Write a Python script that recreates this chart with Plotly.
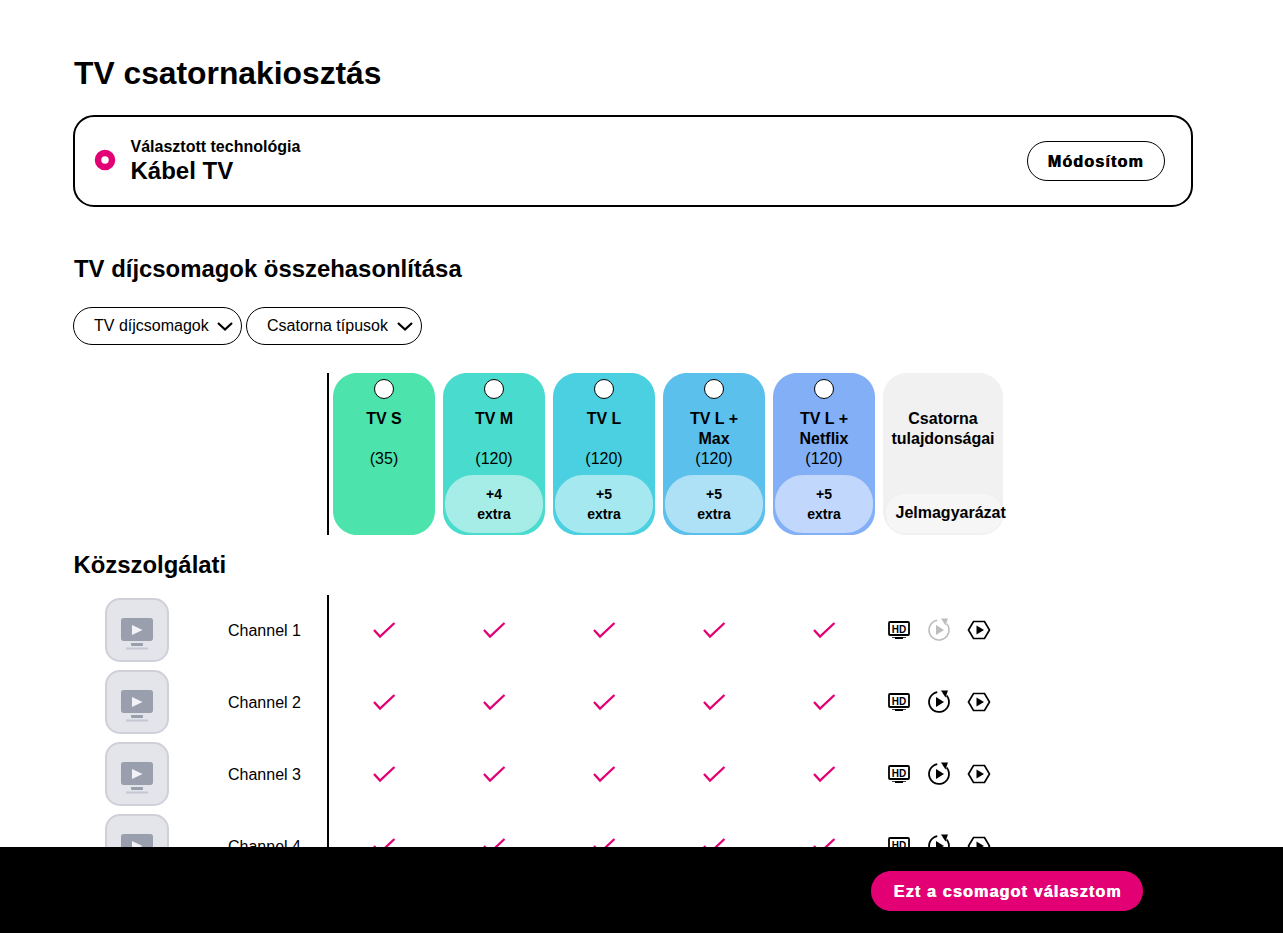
import numpy as np
import plotly.graph_objects as go

W, H = 1283, 933
FONT = "Liberation Sans"
PINK = "#E20074"

# ---- content data
page_title = "TV csatornakiosztás"
tech_label = "Választott technológia"
tech_value = "Kábel TV"
modify_label = "Módosítom"
compare_title = "TV díjcsomagok összehasonlítása"
filters = ["TV díjcsomagok", "Csatorna típusok"]
package_lines = [["TV S"], ["TV M"], ["TV L"], ["TV L +", "Max"], ["TV L +", "Netflix"]]
package_counts = [35, 120, 120, 120, 120]
package_extras = [None, 4, 5, 5, 5]
package_colors = ["#4DE3AC", "#49DBCD", "#4AD0E0", "#5CC0EC", "#82AFF6"]
bubble_colors = [None, "#A5EDE6", "#A5E8F0", "#AEE0F6", "#C1D7FB"]
attr_lines = ["Csatorna", "tulajdonságai"]
legend_label = "Jelmagyarázat"
section_title = "Közszolgálati"
channel_names = ["Channel 1", "Channel 2", "Channel 3", "Channel 4"]
included = [[1, 1, 1, 1, 1], [1, 1, 1, 1, 1], [1, 1, 1, 1, 1], [1, 1, 1, 1, 1]]
replay_active = [False, True, True, True]
cta_label = "Ezt a csomagot választom"

# ---- layout constants
card_x = [333, 443, 553, 663, 773]
card_w = 102
row_y = [630, 702, 774, 846]


def rrect(x0, y0, x1, y1, r):
    k = r * 0.4477  # distance of the Bezier handle from the corner point
    return (f"M{x0+r},{y0} L{x1-r},{y0} C{x1-k},{y0} {x1},{y0+k} {x1},{y0+r} L{x1},{y1-r} "
            f"C{x1},{y1-k} {x1-k},{y1} {x1-r},{y1} L{x0+r},{y1} C{x0+k},{y1} {x0},{y1-k} {x0},{y1-r} "
            f"L{x0},{y0+r} C{x0},{y0+k} {x0+k},{y0} {x0+r},{y0} Z")


def poly(pts, close=True):
    s = "M" + " L".join(f"{x},{y}" for x, y in pts)
    return s + (" Z" if close else "")


shapes = []


def path(d, fill="rgba(0,0,0,0)", line=None, width=0, layer="below"):
    shapes.append(dict(type="path", path=d, fillcolor=fill, layer=layer,
                       line=dict(color=line or "rgba(0,0,0,0)", width=width)))


def circle(cx, cy, r, fill="rgba(0,0,0,0)", line=None, width=0):
    shapes.append(dict(type="circle", x0=cx - r, x1=cx + r, y0=cy - r, y1=cy + r, fillcolor=fill, layer="below",
                       line=dict(color=line or "rgba(0,0,0,0)", width=width)))


# texts: x, y, text, size, bold, colour
centered, left = [], []

left.append((74, 76, page_title, 31.8, True, "#000"))
path(rrect(74, 116, 1192, 206, 20), "#fff", "#000", 2)
circle(105, 160, 7, "#fff", PINK, 6.5)
left.append((130.5, 147.5, tech_label, 16, True, "#000"))
left.append((130.5, 173, tech_value, 24, True, "#000"))
path(rrect(1027.5, 141.5, 1164.5, 180.5, 19.5), "#fff", "#000", 1)
left.append((74, 271.2, compare_title, 23.9, True, "#000"))

for (x0, x1), label in zip([(73.5, 241.5), (246.5, 421.5)], filters):
    path(rrect(x0, 307.5, x1, 344.5, 18.5), "#fff", "#000", 1)
    left.append((x0 + 20.5, 327, label, 16, False, "#000"))
    cx = x1 - 16.5
    path(poly([(cx - 7, 323), (cx, 329.5), (cx + 7, 323)], False), line="#000", width=2.2)

# header cards
for i, x in enumerate(card_x):
    path(rrect(x, 373, x + card_w, 535, 24), package_colors[i])
    cx = x + card_w / 2
    circle(cx, 389, 9.5, "#fff", "#000", 1)
    lines = package_lines[i]
    for j, t in enumerate(lines):
        centered.append((cx, 419.5 + 20 * j, t, 16, True, "#000"))
    centered.append((cx, 459.5, f"({package_counts[i]})", 16, False, "#000"))
    if package_extras[i] is not None:
        path(rrect(x + 2, 475, x + card_w - 2, 533, 28), bubble_colors[i])
        centered.append((cx, 495.5, f"+{package_extras[i]}", 14, True, "#000"))
        centered.append((cx, 515.5, "extra", 14, True, "#000"))

path(rrect(883, 373, 1003, 535, 24), "#F1F1F1")
path(rrect(885, 493, 1003, 534, 20), "#F6F6F6", "#EEEEEE", 1)
centered.append((943, 419.5, attr_lines[0], 16, True, "#000"))
centered.append((943, 439.5, attr_lines[1], 16, True, "#000"))
left.append((895.5, 513.5, legend_label, 16, True, "#000"))

left.append((73.5, 567, section_title, 23.9, True, "#000"))

# vertical rules
path(poly([(328, 373), (328, 535)], False), line="#000", width=2)
path(poly([(328, 595), (328, 847)], False), line="#000", width=2)

check_x, check_y = [], []
for r, y in enumerate(row_y):
    # tile
    path(rrect(106, y - 31, 168, y + 31, 14), "#E4E5EA", "#CFD0D8", 2)
    path(rrect(121, y - 12, 153, y + 11, 2.5), "#9A9FAE")
    path(poly([(132, y - 5), (132, y + 5), (142.5, y)]), "#F2F3F6")
    path(rrect(131, y + 13, 143, y + 16, 1), "#9A9FAE")
    path(rrect(126, y + 17.5, 148, y + 19.5, 0.5), "#C5C8D0")
    centered.append((264.5, y + 2, channel_names[r], 16, False, "#000"))
    # checks
    for c, x in enumerate(card_x):
        if included[r][c]:
            cx = x + card_w / 2
            check_x += [cx - 10, cx - 4, cx + 10.5, None]
            check_y += [y, y + 6.5, y - 7, None]
    # HD icon
    path(rrect(889, y - 8, 909, y + 5, 1), "#fff", "#000", 1.8)
    path(poly([(892, y + 7), (906, y + 7), (906, y + 7.8), (903, y + 7.8), (903, y + 9), (895, y + 9),
               (895, y + 7.8), (892, y + 7.8)]), "#000")
    centered.append((899, y + 0.8, "HD", 10, True, "#000"))
    # replay icon
    col = "#000" if replay_active[r] else "#BDBDBD"
    wid = 1.8 if replay_active[r] else 1.6
    a = np.radians(np.arange(-40, 263, 15))
    path(poly(list(zip(939 + 10 * np.cos(a), y + 10 * np.sin(a))), False), line=col, width=wid)
    path(poly([(936, y - 5), (936, y + 5), (944, y)]), col)
    path(poly([(941, y - 11.5), (948, y - 11.5), (945.5, y - 4.5)]), col)
    # hexagon play icon
    path(poly([(968.5, y), (973.5, y - 8.5), (984.5, y - 8.5), (989.5, y), (984.5, y + 8.5), (973.5, y + 8.5)]),
         "#fff", "#000", 1.7)
    path(poly([(976.5, y - 4.5), (976.5, y + 4.5), (984, y)]), "#000")

# footer sits above everything drawn as a trace
path(f"M0,847 L{W},847 L{W},{H} L0,{H} Z", "#000", layer="above")
path(rrect(871, 871, 1143, 911, 20), PINK, layer="above")


def text_trace(items, pos):
    return go.Scatter(
        x=[t[0] for t in items], y=[t[1] for t in items], text=[t[2] for t in items],
        mode="text", textposition=pos, hoverinfo="skip", showlegend=False, cliponaxis=False,
        textfont=dict(family=FONT, size=[t[3] for t in items],
                      weight=[700 if t[4] else 400 for t in items],
                      color=[t[5] for t in items]))


fig = go.Figure()
fig.add_trace(go.Scatter(x=check_x, y=check_y, mode="lines", hoverinfo="skip", showlegend=False,
                         line=dict(color=PINK, width=2.3)))
fig.add_trace(text_trace(centered, "middle center"))
fig.add_trace(text_trace(left, "middle right"))

annotations = [
    dict(x=1095.5, y=161, text=modify_label, showarrow=False, xanchor="center", yanchor="middle",
         font=dict(family=FONT, size=16, weight=700, color="#000", shadow="0.7px 0 0 #000")),
    dict(x=1007, y=891.5, text=cta_label, showarrow=False, xanchor="center", yanchor="middle",
         font=dict(family=FONT, size=16, weight=700, color="#fff", shadow="0.7px 0 0 #fff")),
]

fig.update_layout(
    width=W, height=H, autosize=False, margin=dict(l=0, r=0, t=0, b=0),
    paper_bgcolor="#fff", plot_bgcolor="#fff", showlegend=False, shapes=shapes, annotations=annotations,
    hovermode=False,
    xaxis=dict(range=[0, W], visible=False, fixedrange=True),
    yaxis=dict(range=[H, 0], visible=False, fixedrange=True),
)
fig.write_html("out.html", config={"displayModeBar": False},
               post_script=("document.body.style.margin='0';document.body.style.overflow='hidden';"
                            "document.querySelectorAll('.annotation-text').forEach(function(t){"
                            "t.style.letterSpacing='1.2px';});"))
